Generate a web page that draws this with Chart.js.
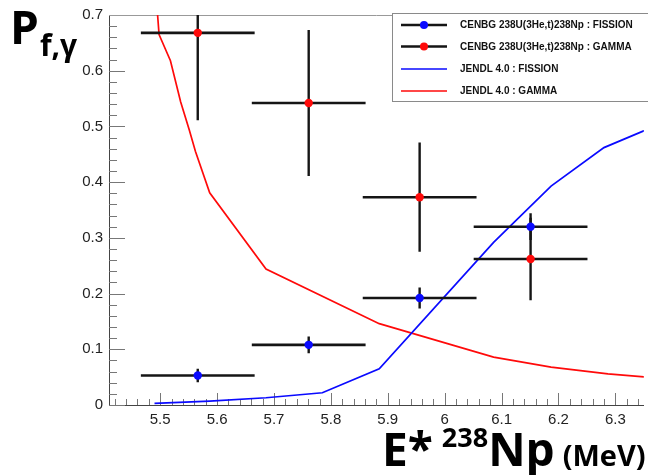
<!DOCTYPE html>
<html><head><meta charset="utf-8">
<script src="https://cdn.jsdelivr.net/npm/chart.js@4.4.1/dist/chart.umd.min.js"></script>
<style>html,body{margin:0;padding:0;background:#fff;overflow:hidden}#wrap{position:relative;width:648px;height:475px}</style>
</head><body><div id="wrap"><canvas id="c" width="648" height="475"></canvas></div>
<script>
// ---- data ----
const binCenters   = [5.566, 5.761, 5.956, 6.151];
const binHalfWidth = [0.1, 0.1, 0.1, 0.1];
const fissionProb  = [0.053, 0.108, 0.192, 0.320];
const fissionErr   = [0.012, 0.015, 0.019, 0.024];
const gammaProb    = [0.668, 0.542, 0.373, 0.262];
const gammaErr     = [0.157, 0.131, 0.098, 0.074];
const jendlFissionE = [5.49, 5.587, 5.686, 5.785, 5.885, 6.086, 6.187, 6.28, 6.38];
const jendlFissionP = [0.003, 0.007, 0.013, 0.022, 0.065, 0.292, 0.393, 0.462, 0.505];
const jendlGammaE   = [5.488, 5.498, 5.518, 5.536, 5.551, 5.562, 5.587, 5.686, 5.885, 6.086, 6.187, 6.287, 6.387];
const jendlGammaP   = [0.80, 0.665, 0.618, 0.544, 0.494, 0.455, 0.381, 0.244, 0.146, 0.086, 0.068, 0.056, 0.047];
const xTickValues = [5.5, 5.6, 5.7, 5.8, 5.9, 6.0, 6.1, 6.2, 6.3];
const yTickValues = [0, 0.1, 0.2, 0.3, 0.4, 0.5, 0.6, 0.7];
const seriesLabels = ['CENBG 238U(3He,t)238Np : FISSION', 'CENBG 238U(3He,t)238Np : GAMMA', 'JENDL 4.0 : FISSION', 'JENDL 4.0 : GAMMA'];

const BLUE = '#0a0aff', RED = '#ff0a0a';
const titleFont = "'Open Sans', Lato, 'DejaVu Sans', sans-serif";

const errorBars = {
  id: 'errorBars',
  beforeDatasetDraw(chart, args) {
    const ds = chart.data.datasets[args.index];
    if (!ds.errY) return;
    const {ctx, chartArea: a, scales: {x, y}} = chart;
    ctx.save();
    ctx.beginPath(); ctx.rect(a.left, a.top, a.right - a.left, a.bottom - a.top); ctx.clip();
    ctx.strokeStyle = '#151515';
    ctx.lineCap = 'butt';
    ds.data.forEach((p, i) => {
      const px = x.getPixelForValue(p.x), py = y.getPixelForValue(p.y);
      ctx.lineWidth = 2.6;
      ctx.beginPath();
      ctx.moveTo(x.getPixelForValue(p.x - ds.errX[i]), py);
      ctx.lineTo(x.getPixelForValue(p.x + ds.errX[i]), py);
      ctx.stroke();
      ctx.lineWidth = 2.4;
      ctx.beginPath();
      ctx.moveTo(px, y.getPixelForValue(p.y - ds.errY[i]));
      ctx.lineTo(px, y.getPixelForValue(p.y + ds.errY[i]));
      ctx.stroke();
    });
    ctx.restore();
  }
};

const frameAndTicks = {
  id: 'frameAndTicks',
  beforeDatasetsDraw(chart) {
    const {ctx, chartArea: a, scales: {x, y}} = chart;
    ctx.save();
    ctx.strokeStyle = '#777';
    ctx.lineWidth = 1;
    for (let k = Math.ceil(x.min / 0.02); k * 0.02 <= x.max + 1e-9; k++) {
      const v = k * 0.02;
      const px = Math.round(x.getPixelForValue(v)) + 0.5;
      const len = (k % 5 === 0) ? 12 : 6;
      ctx.beginPath(); ctx.moveTo(px, a.bottom); ctx.lineTo(px, a.bottom - len); ctx.stroke();
    }
    for (let k = 0; k * 0.02 <= y.max + 1e-9; k++) {
      const v = k * 0.02;
      const py = Math.round(y.getPixelForValue(v)) + 0.5;
      const len = (k % 5 === 0) ? 16 : 8;
      ctx.beginPath(); ctx.moveTo(a.left, py); ctx.lineTo(a.left + len, py); ctx.stroke();
    }
    ctx.strokeStyle = '#999';
    ctx.beginPath(); ctx.moveTo(a.left, a.top + 0.5); ctx.lineTo(a.right, a.top + 0.5); ctx.stroke();
    ctx.restore();
  },
  afterDraw(chart) {
    const {ctx} = chart;
    ctx.save();
    ctx.fillStyle = '#000';
    ctx.textBaseline = 'alphabetic';
    // y title  P_{f,γ}
    ctx.font = `bold 46px ${titleFont}`;
    ctx.fillText('P', 10, 44);
    let w = ctx.measureText('P').width;
    ctx.font = `bold 30px ${titleFont}`;
    ctx.fillText('f,γ', 10 + w + 1, 56);
    // x title  E* 238Np (MeV)
    let cx = 382;
    const base = 466;
    ctx.font = `bold 46px ${titleFont}`;
    ctx.fillText('E*', cx, base); cx += ctx.measureText('E*').width + 9;
    ctx.font = `bold 27px ${titleFont}`;
    ctx.fillText('238', cx, base - 19); cx += ctx.measureText('238').width;
    ctx.font = `bold 46px ${titleFont}`;
    ctx.fillText('Np', cx, base); cx += ctx.measureText('Np').width + 8;
    ctx.font = `bold 29px ${titleFont}`;
    ctx.fillText('(MeV)', cx, base);
    // legend box
    const lx = 392.5, ly = 13.5, lw = 262, lh = 88;
    ctx.fillStyle = '#fff';
    ctx.fillRect(lx, ly, lw, lh);
    ctx.strokeStyle = '#8a8a8a'; ctx.lineWidth = 1;
    ctx.strokeRect(lx, ly, lw, lh);
    const rows = [25, 46.5, 69, 91];
    ctx.font = "bold 10px 'Liberation Sans', Arial, sans-serif";
    ctx.textBaseline = 'middle';
    chart.data.datasets.forEach((ds, i) => {
      const ry = rows[i];
      if (ds.errY) {
        ctx.strokeStyle = '#151515'; ctx.lineWidth = 2.6;
        ctx.beginPath(); ctx.moveTo(401, ry); ctx.lineTo(447, ry); ctx.stroke();
        ctx.fillStyle = ds.backgroundColor;
        ctx.beginPath(); ctx.arc(424, ry, 4, 0, Math.PI * 2); ctx.fill();
      } else {
        ctx.strokeStyle = ds.borderColor; ctx.lineWidth = 1.5;
        ctx.beginPath(); ctx.moveTo(401, ry); ctx.lineTo(447, ry); ctx.stroke();
      }
      ctx.fillStyle = '#111';
      ctx.fillText(ds.label, 460, ry + 0.5);
    });
    ctx.restore();
  }
};

new Chart(document.getElementById('c'), {
  type: 'scatter',
  data: {
    datasets: [
      { label: seriesLabels[0], data: binCenters.map((v, i) => ({x: v, y: fissionProb[i]})),
        errX: binHalfWidth, errY: fissionErr,
        backgroundColor: BLUE, borderColor: BLUE, pointRadius: 4.2, pointHoverRadius: 4.2, borderWidth: 0, showLine: false },
      { label: seriesLabels[1], data: binCenters.map((v, i) => ({x: v, y: gammaProb[i]})),
        errX: binHalfWidth, errY: gammaErr,
        backgroundColor: RED, borderColor: RED, pointRadius: 4.2, pointHoverRadius: 4.2, borderWidth: 0, showLine: false },
      { label: seriesLabels[2], data: jendlFissionE.map((v, i) => ({x: v, y: jendlFissionP[i]})),
        showLine: true, borderColor: BLUE, backgroundColor: BLUE, borderWidth: 1.7, pointRadius: 0, tension: 0, fill: false },
      { label: seriesLabels[3], data: jendlGammaE.map((v, i) => ({x: v, y: jendlGammaP[i]})),
        showLine: true, borderColor: RED, backgroundColor: RED, borderWidth: 1.7, pointRadius: 0, tension: 0, fill: false }
    ]
  },
  options: {
    responsive: false, animation: false, devicePixelRatio: 1,
    layout: {padding: {top: 12, right: 0, left: 0, bottom: 0}},
    plugins: {legend: {display: false}, tooltip: {enabled: false}},
    scales: {
      x: {
        type: 'linear', min: 5.41, max: 6.35,
        afterBuildTicks: s => { s.ticks = xTickValues.map(v => ({value: v})); },
        afterFit: s => { s.height = 70; },
        grid: {display: false, drawTicks: false},
        border: {display: true, color: '#444', width: 1},
        ticks: {padding: 6, color: '#222', autoSkip: false, maxRotation: 0,
          font: {family: "'Liberation Sans', Arial, sans-serif", size: 15},
          callback: v => String(+(+v).toFixed(1))}
      },
      y: {
        type: 'linear', min: 0, max: 0.7,
        afterBuildTicks: s => { s.ticks = yTickValues.map(v => ({value: v})); },
        afterFit: s => { s.width = 109; },
        grid: {display: false, drawTicks: false},
        border: {display: true, color: '#444', width: 1},
        ticks: {padding: 6, color: '#222',
          font: {family: "'Liberation Sans', Arial, sans-serif", size: 15},
          callback: v => String(+(+v).toFixed(1))}
      }
    }
  },
  plugins: [frameAndTicks, errorBars]
});
</script></body></html>
